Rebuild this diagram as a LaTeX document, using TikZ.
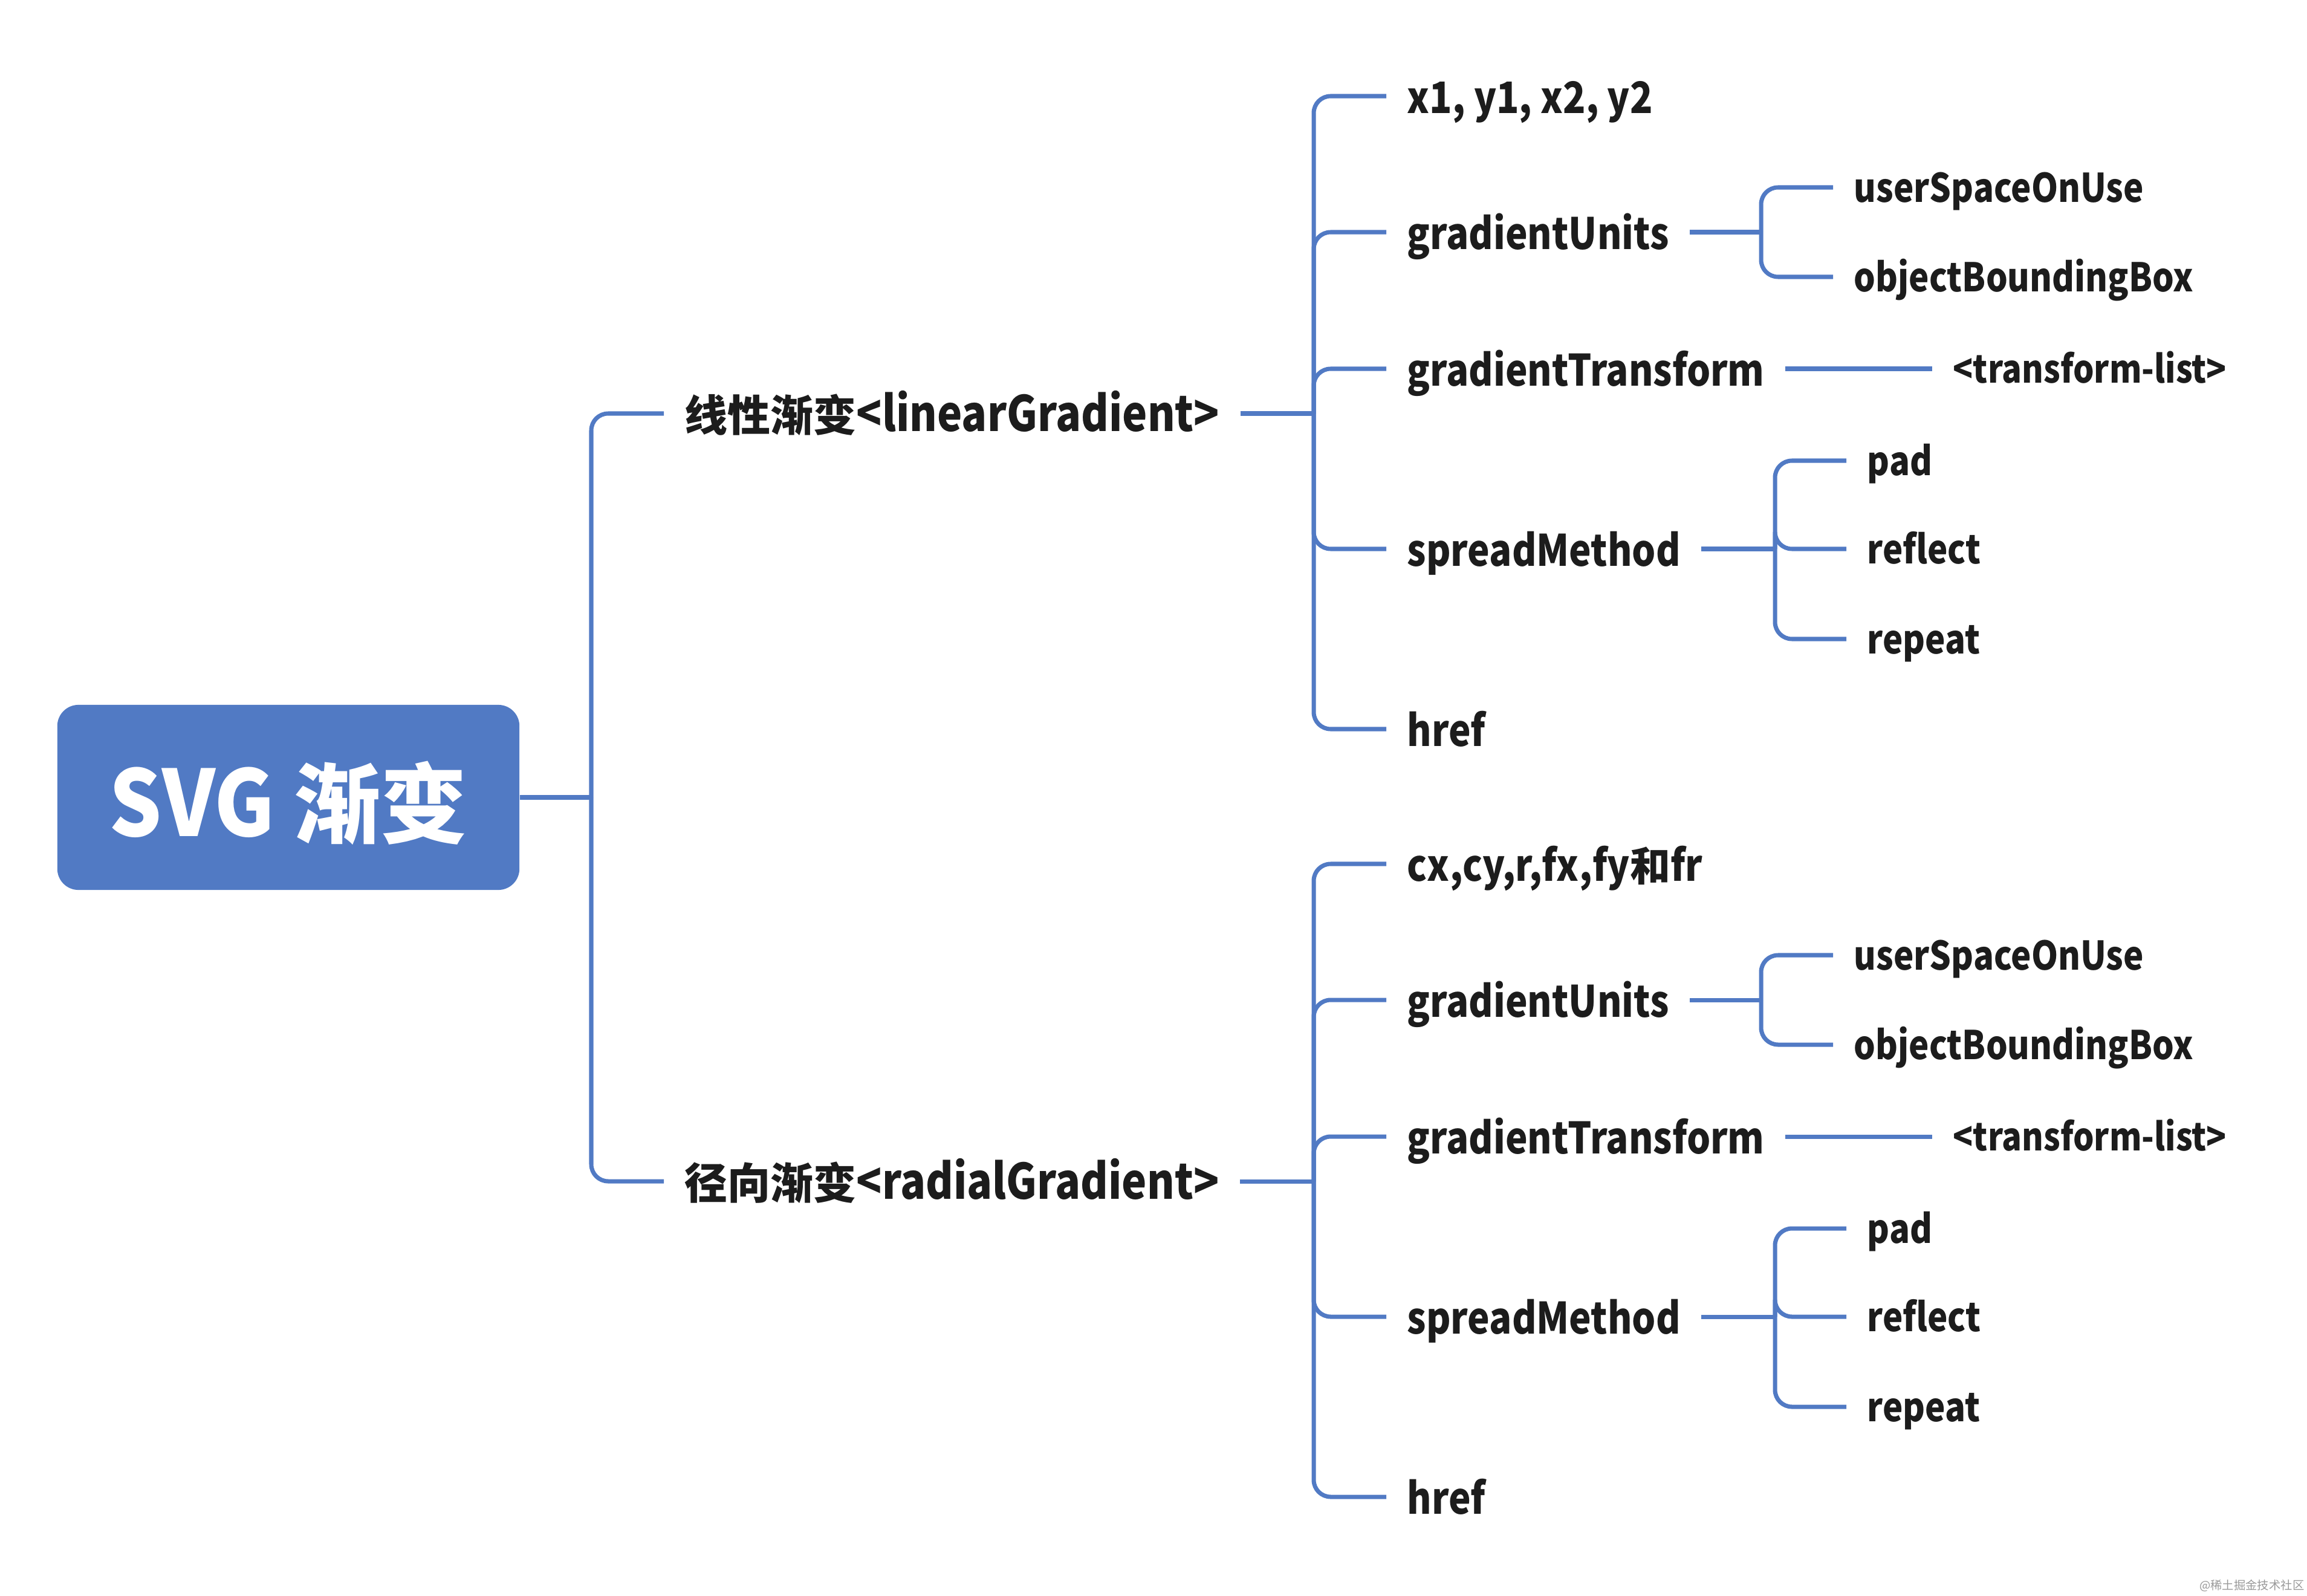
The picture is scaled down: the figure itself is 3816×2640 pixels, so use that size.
\documentclass[tikz,border=0pt]{standalone}
\usepackage{fontspec}
\setmainfont{Noto Sans CJK SC}
\newfontfamily\latn{Noto Sans CJK SC}[FakeStretch=0.86]
\newfontfamily\latr{Noto Sans CJK SC}[FakeStretch=0.905]
\newcommand\zhone[1]{{\normalfont\bfseries\fontsize{20.2}{24}\selectfont #1}}
\newcommand\zhtwo[1]{{\normalfont\bfseries\fontsize{19}{24}\selectfont #1}}
\newcommand\zhroot[1]{{\normalfont\bfseries\fontsize{40.8}{48}\selectfont #1}}
\definecolor{mblue}{RGB}{81,122,196}
\definecolor{ink}{HTML}{1C1C1C}
\begin{document}
\begin{tikzpicture}[x=0.01cm,y=-0.01cm,
  conn/.style={draw=mblue,line width=2pt,rounded corners=0.28cm},
  lab/.style={anchor=west,inner xsep=0.34cm,inner ysep=0pt,text=ink,text depth=0pt},
  lone/.style={lab,text height=16.5pt,font=\latn\bfseries\fontsize{23}{27}\selectfont},
  ltwo/.style={lab,text height=16pt,font=\latn\bfseries\fontsize{20.4}{24}\selectfont},
  lthree/.style={lab,text height=13.8pt,font=\latn\bfseries\fontsize{18.6}{22}\selectfont},
  lfour/.style={lab,text height=13.2pt,font=\latn\bfseries\fontsize{18}{22}\selectfont},
  rootbox/.style={fill=mblue,rounded corners=0.35cm,minimum width=7.64cm,minimum height=3.06cm,
    text=white,font=\latr\bfseries\fontsize{43}{50}\selectfont,text height=36.4pt,text depth=0pt,inner sep=0pt}]
\useasboundingbox (0,0) rectangle (3816,2640);

% root
\node[rootbox] (root) at (477,1319) {SVG \zhroot{渐变}};
\coordinate (j0) at (978,1319);

% level 1
\node[lone] (la) at (1098,684) {\zhone{线性渐变}<linearGradient>};
\node[lone] (lb) at (1098,1954) {\zhone{径向渐变}<radialGradient>};
\coordinate (ja) at (2173,684);
\coordinate (jb) at (2173,1954);

% linear children
\node[ltwo] (a1) at (2293,159) {x1, y1, x2, y2};
\node[ltwo] (a2) at (2293,384) {gradientUnits};
\node[ltwo] (a3) at (2293,610) {gradientTransform};
\node[ltwo] (a4) at (2293,908) {spreadMethod};
\node[ltwo] (a5) at (2293,1206) {href};
\coordinate (jau) at (2913,384);
\coordinate (jas) at (2936,908);
\node[lthree] (au1) at (3032,310) {userSpaceOnUse};
\node[lthree] (au2) at (3032,458) {objectBoundingBox};
\node[lfour] (at1) at (3196,610) {<transform-list>};
\node[lthree] (as1) at (3054,762) {pad};
\node[lthree] (as2) at (3054,908) {reflect};
\node[lthree] (as3) at (3054,1057) {repeat};

% radial children
\node[ltwo] (b1) at (2293,1429) {cx,cy,r,fx,fy\zhtwo{和}fr};
\node[ltwo] (b2) at (2293,1654) {gradientUnits};
\node[ltwo] (b3) at (2293,1880) {gradientTransform};
\node[ltwo] (b4) at (2293,2178) {spreadMethod};
\node[ltwo] (b5) at (2293,2476) {href};
\coordinate (jbu) at (2913,1654);
\coordinate (jbs) at (2936,2178);
\node[lthree] (bu1) at (3032,1580) {userSpaceOnUse};
\node[lthree] (bu2) at (3032,1728) {objectBoundingBox};
\node[lfour] (bt1) at (3196,1880) {<transform-list>};
\node[lthree] (bs1) at (3054,2032) {pad};
\node[lthree] (bs2) at (3054,2178) {reflect};
\node[lthree] (bs3) at (3054,2327) {repeat};

% watermark
\node[anchor=east,inner sep=0pt,text=black!40,font=\fontsize{5.5}{6}\selectfont] (wm) at (3812,2623) {@稀土掘金技术社区};

% connectors
\draw[conn] (root.east) -- (j0);
\draw[conn] (la.west) -| (j0);
\draw[conn] (lb.west) -| (j0);

\draw[conn] (la.east) -- (ja);
\foreach \n in {a1,a2,a3,a4,a5} \draw[conn] (\n.west) -| (ja);
\draw[conn] (a2.east) -- (jau);
\draw[conn] (au1.west) -| (jau);
\draw[conn] (au2.west) -| (jau);
\draw[conn] (a3.east) -- (at1.west);
\draw[conn] (a4.east) -- (jas);
\foreach \n in {as1,as2,as3} \draw[conn] (\n.west) -| (jas);

\draw[conn] (lb.east) -- (jb);
\foreach \n in {b1,b2,b3,b4,b5} \draw[conn] (\n.west) -| (jb);
\draw[conn] (b2.east) -- (jbu);
\draw[conn] (bu1.west) -| (jbu);
\draw[conn] (bu2.west) -| (jbu);
\draw[conn] (b3.east) -- (bt1.west);
\draw[conn] (b4.east) -- (jbs);
\foreach \n in {bs1,bs2,bs3} \draw[conn] (\n.west) -| (jbs);
\end{tikzpicture}
\end{document}
